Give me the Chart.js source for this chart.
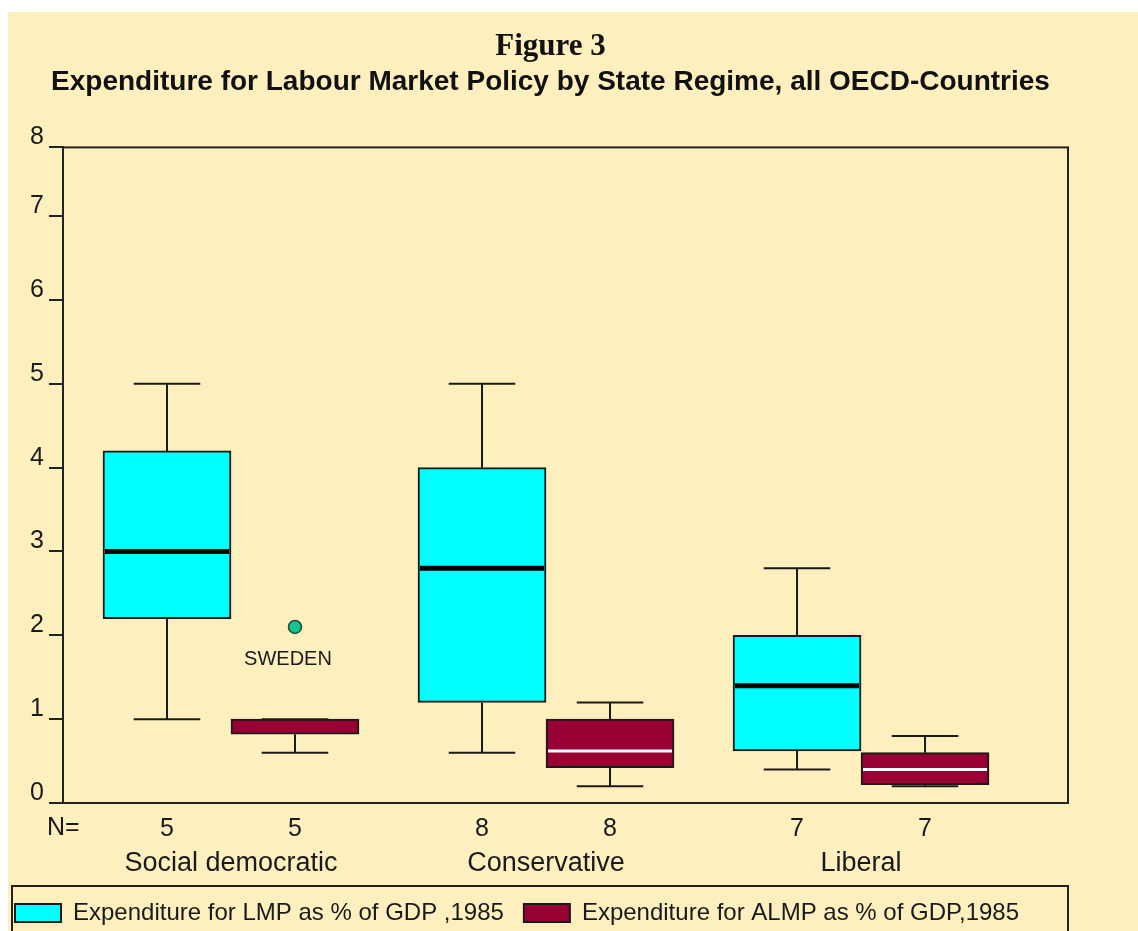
<!DOCTYPE html>
<html><head><meta charset="utf-8">
<script src="https://cdn.jsdelivr.net/npm/chart.js@4.4.1/dist/chart.umd.min.js"></script>
<style>html,body{margin:0;padding:0;background:#fff;}canvas{display:block;}</style>
</head><body>
<canvas id="c" width="1138" height="931"></canvas>
<script>
// ---------- data ----------
const categories = ['Social democratic', 'Conservative', 'Liberal'];
const seriesLabels = ['Expenditure for LMP as % of GDP ,1985', 'Expenditure for ALMP as % of GDP,1985'];
const nLmp  = [5, 8, 7];
const nAlmp = [5, 8, 7];
// LMP (cyan) boxes
const lmpMin    = [1.0, 0.6, 0.4];
const lmpQ1     = [2.2, 1.2, 0.62];
const lmpMedian = [3.0, 2.8, 1.4];
const lmpQ3     = [4.2, 4.0, 2.0];
const lmpMax    = [5.0, 5.0, 2.8];
// ALMP (maroon) boxes
const almpMin    = [0.6, 0.2, 0.2];
const almpQ1     = [0.82, 0.42, 0.22];
const almpMedian = [1.0, 0.62, 0.4];
const almpQ3     = [1.0, 1.0, 0.6];
const almpMax    = [1.0, 1.2, 0.8];
// outliers
const outlierCategory = [0];
const outlierSeries   = [1];
const outlierValue    = [2.1];
const outlierLabel    = ['SWEDEN'];
// axes
const yTickValues = [0, 1, 2, 3, 4, 5, 6, 7, 7.82];
const yTickLabels = ['0', '1', '2', '3', '4', '5', '6', '7', '8'];
const nRowLabel = 'N=';
const titleText = 'Figure 3';
const subtitleText = 'Expenditure for Labour Market Policy by State Regime, all OECD-Countries';

// ---------- styling ----------
const SANS = "'Liberation Sans', Arial, sans-serif";
const SERIF = "'Liberation Serif', 'Times New Roman', serif";
const INK = '#1a1a1a';
const boxStats = [
  {min: lmpMin, q1: lmpQ1, med: lmpMedian, q3: lmpQ3, max: lmpMax, medColor: '#000000', medWidth: 5, n: nLmp},
  {min: almpMin, q1: almpQ1, med: almpMedian, q3: almpQ3, max: almpMax, medColor: '#ffffff', medWidth: 3, n: nAlmp}
];

const bgPlugin = {
  id: 'bg',
  beforeDraw(chart) {
    const c = chart.ctx;
    c.save();
    c.fillStyle = '#FEEFBE';
    c.fillRect(8, 12, chart.width - 8, chart.height - 12);
    c.restore();
  }
};

const boxPlugin = {
  id: 'boxplot',
  afterDatasetsDraw(chart) {
    const c = chart.ctx;
    const ys = chart.scales.y;
    c.save();
    boxStats.forEach((st, d) => {
      const meta = chart.getDatasetMeta(d);
      meta.data.forEach((bar, i) => {
        const {x, width} = bar.getProps(['x', 'width'], true);
        const capW = width * 0.52;
        const yq1 = ys.getPixelForValue(st.q1[i]);
        const yq3 = ys.getPixelForValue(st.q3[i]);
        const ymin = ys.getPixelForValue(st.min[i]);
        const ymax = ys.getPixelForValue(st.max[i]);
        c.strokeStyle = INK;
        c.lineWidth = 2;
        c.beginPath();
        c.moveTo(x, yq3); c.lineTo(x, ymax);
        c.moveTo(x - capW / 2, ymax); c.lineTo(x + capW / 2, ymax);
        c.moveTo(x, yq1); c.lineTo(x, ymin);
        c.moveTo(x - capW / 2, ymin); c.lineTo(x + capW / 2, ymin);
        c.stroke();
        // median, clipped to box interior
        const bw = 2;
        c.save();
        c.beginPath();
        c.rect(x - width / 2 + bw, yq3 + bw, width - 2 * bw, (yq1 - yq3) - 2 * bw);
        c.clip();
        const ym = ys.getPixelForValue(st.med[i]);
        c.strokeStyle = st.medColor;
        c.lineWidth = st.medWidth;
        c.beginPath();
        c.moveTo(x - width / 2, ym); c.lineTo(x + width / 2, ym);
        c.stroke();
        c.restore();
      });
    });
    // outliers
    outlierValue.forEach((v, k) => {
      const bar = chart.getDatasetMeta(outlierSeries[k]).data[outlierCategory[k]];
      const x = bar.x;
      const y = ys.getPixelForValue(v);
      c.beginPath();
      c.arc(x, y, 6.5, 0, Math.PI * 2);
      c.fillStyle = '#14C38E';
      c.fill();
      c.lineWidth = 1.5;
      c.strokeStyle = '#1e4a3c';
      c.stroke();
      c.fillStyle = INK;
      c.font = '20px ' + SANS;
      c.textAlign = 'center';
      c.textBaseline = 'middle';
      c.fillText(outlierLabel[k], x - 7, y + 33);
    });
    c.restore();
  },
  afterDraw(chart) {
    const c = chart.ctx;
    const a = chart.chartArea;
    c.save();
    // frame
    c.strokeStyle = '#222';
    c.lineWidth = 2;
    c.strokeRect(a.left, a.top, a.right - a.left, a.bottom - a.top);
    // N row
    c.fillStyle = INK;
    c.font = '25px ' + SANS;
    c.textBaseline = 'middle';
    c.textAlign = 'left';
    c.fillText(nRowLabel, a.left - 16, a.bottom + 25);
    c.textAlign = 'center';
    boxStats.forEach((st, d) => {
      chart.getDatasetMeta(d).data.forEach((bar, i) => {
        c.fillText(String(st.n[i]), bar.x, a.bottom + 26);
      });
    });
    // legend frame
    const lg = chart.legend;
    c.strokeStyle = '#222';
    c.lineWidth = 2;
    c.strokeRect(12, lg.top + 5, a.right - 12, 200);
    c.restore();
  }
};

new Chart(document.getElementById('c'), {
  type: 'bar',
  data: {
    datasets: [
      {
        label: seriesLabels[0],
        data: categories.map((c, i) => ({x: i + 1, y: [lmpQ1[i], lmpQ3[i]]})),
        backgroundColor: '#00FFFF',
        borderColor: INK,
        borderWidth: 2,
        borderSkipped: false,
        barThickness: 128
      },
      {
        label: seriesLabels[1],
        data: categories.map((c, i) => ({x: i + 1, y: [almpQ1[i], almpQ3[i]]})),
        backgroundColor: '#990033',
        borderColor: INK,
        borderWidth: 2,
        borderSkipped: false,
        barThickness: 128
      }
    ]
  },
  options: {
    responsive: false,
    animation: false,
    devicePixelRatio: 1,
    layout: {padding: {left: -5, right: 32, top: 0, bottom: -4}},
    scales: {
      x: {
        type: 'linear',
        min: 0.4667,
        max: 3.657,
        offset: false,
        grid: {display: false},
        border: {display: false},
        afterBuildTicks: s => { s.ticks = categories.map((c, i) => ({value: i + 1})); },
        afterFit: s => { s.height = 78; },
        ticks: {
          autoSkip: false, maxRotation: 0, minRotation: 0, padding: 36,
          font: {family: SANS, size: 27}, color: INK,
          callback: (v) => categories[Math.round(v) - 1]
        }
      },
      y: {
        min: 0,
        max: yTickValues[yTickValues.length - 1],
        afterBuildTicks: s => { s.ticks = yTickValues.map(v => ({value: v})); },
        afterFit: s => { s.width = 68; },
        grid: {drawOnChartArea: false, drawTicks: true, tickLength: 14, color: '#222', lineWidth: 2},
        border: {display: true, color: '#222', width: 2},
        ticks: {
          padding: 5, labelOffset: -10,
          font: {family: SANS, size: 25}, color: INK,
          callback: (v, i) => yTickLabels[i]
        }
      },
      yRightSpace: {
        type: 'linear',
        position: 'right',
        grid: {display: false},
        border: {display: false},
        ticks: {display: false},
        afterFit: s => { s.width = 38; }
      }
    },
    plugins: {
      title: {
        display: true, text: titleText, color: '#111',
        font: {family: SERIF, size: 31, weight: 'bold', lineHeight: 1.2},
        padding: {top: 28, bottom: 0}
      },
      subtitle: {
        display: true, text: subtitleText, color: '#111',
        font: {family: SANS, size: 28, weight: 'bold', lineHeight: 1.2},
        padding: {top: 0, bottom: 48.6}
      },
      legend: {
        position: 'bottom', align: 'start',
        labels: {boxWidth: 46, boxHeight: 18, padding: 20, font: {family: SANS, size: 24}, color: INK}
      },
      tooltip: {enabled: false}
    }
  },
  plugins: [bgPlugin, boxPlugin]
});
</script>
</body></html>
